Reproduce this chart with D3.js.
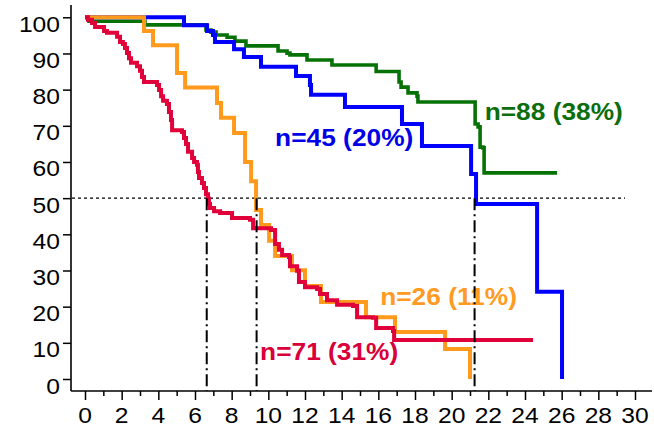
<!DOCTYPE html>
<html>
<head>
<meta charset="utf-8">
<script src="https://cdn.jsdelivr.net/npm/d3@7"></script>
<style>
  html, body { margin: 0; padding: 0; background: #fff; }
  svg { display: block; }
  text { font-family: "Liberation Sans", Arial, Helvetica, sans-serif; }
</style>
</head>
<body>
<svg id="chart" width="654" height="430"></svg>
<script>
// Kaplan–Meier step curves: event times (months) and survival (%) after each step
const greenTime = [0, 0.22, 3.27, 6.60, 6.87, 7.15, 7.75, 8.18, 8.78, 10.53, 11.02, 11.18, 12.11, 13.47, 15.88, 17.13, 17.24, 17.62, 18.11, 18.16, 21.28, 21.44, 21.55, 21.71, 21.77, 25.75];
const greenSurv = [100, 98.9, 97.9, 96.5, 95.9, 95.1, 94.5, 93.4, 92.1, 90.7, 90.1, 89.6, 88.2, 86.8, 85.0, 82.1, 80.7, 79.1, 78.2, 76.6, 70.5, 69.7, 64.1, 63.9, 57.0, 57.0];

const blueTime = [0, 5.40, 6.66, 6.98, 7.09, 8.13, 8.67, 9.60, 11.51, 12.27, 12.33, 14.18, 17.29, 18.38, 21.06, 21.33, 24.66, 26.02];
const blueSurv = [100, 97.8, 96.2, 95.1, 93.2, 91.2, 89.0, 86.3, 83.8, 81.3, 78.6, 75.2, 70.5, 64.4, 56.7, 48.4, 24.1, 0];

const orangeTime = [0, 3.22, 3.71, 5.02, 5.46, 7.20, 7.42, 8.13, 8.73, 9.06, 9.33, 9.60, 10.04, 10.37, 11.29, 12.00, 12.87, 15.33, 16.91, 19.64, 21.00];
const orangeSurv = [100, 96.2, 92.3, 84.6, 80.6, 76.3, 72.2, 68.0, 60.0, 54.7, 46.7, 42.6, 38.2, 34.0, 30.1, 25.7, 21.3, 17.1, 13.0, 8.3, 0];

const redTime = [0, 0.16, 0.38, 0.55, 1.04, 1.20, 1.75, 1.91, 2.07, 2.18, 2.29, 2.40, 2.51, 2.84, 3.00, 3.11, 3.22, 3.93, 4.04, 4.15, 4.26, 4.47, 4.58, 4.69, 4.75, 5.29, 5.40, 5.51, 5.62, 5.84, 5.95, 6.11, 6.16, 6.22, 6.38, 6.49, 6.60, 6.71, 6.76, 6.82, 7.04, 7.37, 8.02, 9.00, 9.17, 10.15, 10.37, 10.58, 10.75, 11.13, 11.18, 11.57, 11.67, 12.00, 12.66, 12.82, 13.20, 13.75, 14.62, 14.84, 15.71, 15.88, 16.80, 16.86, 24.44];
const redSurv = [100, 99.3, 98.4, 97.3, 96.2, 95.7, 94.6, 93.2, 92.6, 91.5, 90.1, 88.7, 87.4, 86.5, 85.2, 83.5, 82.1, 81.3, 79.9, 78.2, 76.9, 76.0, 73.8, 71.6, 68.8, 68.3, 66.6, 65.0, 62.8, 61.1, 60.0, 59.2, 57.2, 55.6, 54.2, 52.8, 51.1, 49.8, 48.4, 47.3, 46.4, 45.9, 44.5, 44.0, 41.7, 41.2, 37.3, 35.7, 34.3, 33.7, 31.2, 29.9, 26.8, 25.4, 24.9, 23.5, 21.8, 20.5, 20.2, 17.1, 16.9, 14.1, 13.3, 10.8, 10.8];

// Group labels and where they sit (time, survival of the baseline)
const groupLabels = ["n=88 (38%)", "n=45 (20%)", "n=26 (11%)", "n=71 (31%)"];
const labelTime = [21.8, 10.37, 16.1, 9.55];
const labelSurv = [71.6, 64.4, 20.5, 5.3];

// Median survival times (where each curve crosses 50%)
const medianTimes = [6.64, 9.36, 21.25];

const xTickValues = d3.range(0, 31, 1);
const yTickValues = d3.range(0, 101, 10);

const colors = { green: "#067206", blue: "#0000ff", orange: "#ff9a1c", red: "#e0003a" };
const textColors = { green: "#0b6e0b", blue: "#0000e6", orange: "#ff9a22", red: "#d9003a" };

const svg = d3.select("#chart");
const x = d3.scaleLinear().domain([0, 30]).range([85, 635]);
const y = d3.scaleLinear().domain([0, 100]).range([379, 17.3]);

const axisX = 71;       // position of the vertical axis line
const axisY = 391;      // position of the horizontal axis line
const stretch = 1.12;   // horizontal widening of the lettering

// Axes
const gx = svg.append("g").attr("transform", `translate(0,${axisY})`);
gx.append("g")
  .call(d3.axisBottom(x).tickValues(xTickValues.filter(d => d % 2 === 1)).tickSize(5).tickFormat(""))
  .call(g => g.select(".domain").remove());
gx.append("g")
  .call(d3.axisBottom(x).tickValues(xTickValues.filter(d => d % 2 === 0)).tickSize(9).tickFormat(""))
  .call(g => g.select(".domain").remove());
gx.selectAll("line").attr("stroke", "#000").attr("stroke-width", 1.5);
gx.append("line").attr("x1", axisX).attr("x2", 652).attr("stroke", "#000").attr("stroke-width", 1.6);

gx.selectAll("text.xl")
  .data(xTickValues.filter(d => d % 2 === 0))
  .join("text")
  .attr("class", "xl")
  .attr("transform", d => `translate(${x(d)},32) scale(${stretch},1)`)
  .attr("text-anchor", "middle")
  .attr("font-size", 22)
  .attr("fill", "#000")
  .text(d => d);

const gy = svg.append("g").attr("transform", `translate(${axisX},0)`);
gy.call(d3.axisLeft(y).tickValues(yTickValues).tickSize(8).tickFormat(""))
  .call(g => g.select(".domain").remove());
gy.selectAll("line").attr("stroke", "#000").attr("stroke-width", 1.5);
gy.append("line").attr("y1", 5).attr("y2", axisY).attr("stroke", "#000").attr("stroke-width", 1.6);

gy.selectAll("text.yl")
  .data(yTickValues)
  .join("text")
  .attr("class", "yl")
  .attr("transform", d => `translate(-11,${y(d) + 14.5}) scale(${stretch},1)`)
  .attr("text-anchor", "end")
  .attr("font-size", 22)
  .attr("fill", "#000")
  .text(d => d);

// 50% reference line
svg.append("line")
  .attr("x1", axisX + 1).attr("x2", 625)
  .attr("y1", y(50)).attr("y2", y(50))
  .attr("stroke", "#000").attr("stroke-width", 1.2)
  .attr("stroke-dasharray", "3,3");

// Curves
const step = d3.line().x(d => x(d[0])).y(d => y(d[1])).curve(d3.curveStepAfter);
const series = [
  { time: greenTime, surv: greenSurv, color: colors.green, width: 3.6 },
  { time: blueTime, surv: blueSurv, color: colors.blue, width: 4 },
  { time: orangeTime, surv: orangeSurv, color: colors.orange, width: 4 },
  { time: redTime, surv: redSurv, color: colors.red, width: 4 }
];
svg.append("g").selectAll("path")
  .data(series)
  .join("path")
  .attr("d", s => step(s.time.map((t, i) => [t, s.surv[i]])))
  .attr("fill", "none")
  .attr("stroke", s => s.color)
  .attr("stroke-width", s => s.width)
  .attr("stroke-linejoin", "miter")
  .attr("stroke-linecap", "butt");

// Group labels
const labelColors = [textColors.green, textColors.blue, textColors.orange, textColors.red];
svg.append("g").selectAll("text")
  .data(groupLabels)
  .join("text")
  .attr("transform", (d, i) => `translate(${x(labelTime[i])},${y(labelSurv[i])}) scale(${stretch},1)`)
  .attr("font-size", 23.5)
  .attr("font-weight", "bold")
  .attr("fill", (d, i) => labelColors[i])
  .text(d => d);

// Median drop lines
svg.append("g").selectAll("line")
  .data(medianTimes)
  .join("line")
  .attr("x1", d => x(d)).attr("x2", d => x(d))
  .attr("y1", y(50)).attr("y2", axisY)
  .attr("stroke", "#000").attr("stroke-width", 2)
  .attr("stroke-dasharray", "12,4,2,4");
</script>
</body>
</html>
